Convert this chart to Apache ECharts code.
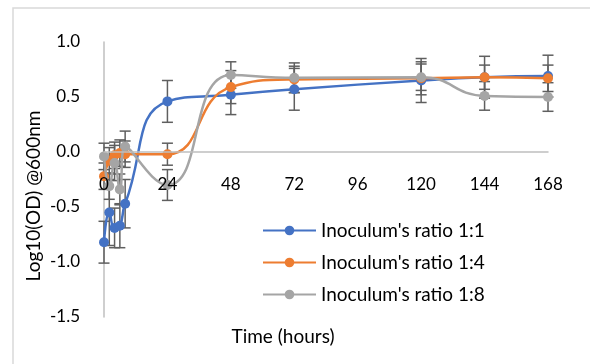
<!DOCTYPE html>
<html>
<head>
<meta charset="utf-8">
<script src="https://cdn.jsdelivr.net/npm/echarts@6/dist/echarts.min.js"></script>
<style>
  html, body { margin: 0; padding: 0; background: #fff; }
  #chart { width: 590px; height: 364px; }
</style>
</head>
<body>
<div id="chart"></div>
<script>
// Sampling times (hours)
const hours = [0, 2, 4, 6, 8, 24, 48, 72, 120, 144, 168];

// Log10(OD600) means per inoculum ratio
const ratio11 = [-0.82, -0.55, -0.69, -0.67, -0.47, 0.46, 0.52, 0.57, 0.65, 0.68, 0.69];
const ratio14 = [-0.22, -0.08, -0.03, -0.01, -0.02, -0.02, 0.59, 0.66, 0.67, 0.68, 0.67];
const ratio18 = [-0.04, -0.31, -0.10, -0.34, 0.05, -0.30, 0.70, 0.675, 0.68, 0.51, 0.50];

// Standard deviations
const err11 = [0.19, 0.30, 0.18, 0.20, 0.22, 0.19, 0.18, 0.19, 0.20, 0.19, 0.19];
const err14 = [0.12, 0.12, 0.12, 0.12, 0.12, 0.10, 0.15, 0.12, 0.15, 0.11, 0.12];
const err18 = [0.12, 0.12, 0.16, 0.14, 0.14, 0.14, 0.12, 0.135, 0.12, 0.13, 0.13];

const seriesNames = ["Inoculum's ratio 1:1", "Inoculum's ratio 1:4", "Inoculum's ratio 1:8"];
const colors = ['#4472C4', '#ED7D31', '#A5A5A5'];

const yTicks = [-1.5, -1.0, -0.5, 0.0, 0.5, 1.0];
const xTicks = [0, 24, 48, 72, 96, 120, 144, 168];

const FONT = 'Lato';
const values = [ratio11, ratio14, ratio18];
const errors = [err11, err14, err18];

function pairs(v) { return hours.map((h, i) => [h, v[i]]); }
function errTriples(v, e) { return hours.map((h, i) => [h, v[i], e[i]]); }

function renderErr(params, api) {
  const x = api.value(0), y = api.value(1), e = api.value(2);
  const top = api.coord([x, y + e]);
  const bot = api.coord([x, y - e]);
  const cap = 5.5;
  const style = { stroke: '#5F5F5F', lineWidth: 1.5 };
  return {
    type: 'group',
    children: [
      { type: 'line', shape: { x1: top[0], y1: top[1], x2: bot[0], y2: bot[1] }, style },
      { type: 'line', shape: { x1: top[0] - cap, y1: top[1], x2: top[0] + cap, y2: top[1] }, style },
      { type: 'line', shape: { x1: bot[0] - cap, y1: bot[1], x2: bot[0] + cap, y2: bot[1] }, style }
    ]
  };
}

const series = [];
values.forEach((v, k) => {
  series.push({
    type: 'custom',
    renderItem: renderErr,
    data: errTriples(v, errors[k]),
    z: 1,
    silent: true,
    clip: false
  });
});
values.forEach((v, k) => {
  series.push({
    name: seriesNames[k],
    type: 'line',
    data: pairs(v),
    smooth: 0.5,
    symbol: 'circle',
    symbolSize: 10,
    lineStyle: { color: colors[k], width: 2.5 },
    itemStyle: { color: colors[k] },
    z: 3 + k
  });
});

// Plot box and scale
const GRID = { left: 104, right: 42, top: 42, bottom: 47 };
const plotH = 364 - GRID.top - GRID.bottom;
const yMin = yTicks[0], yMax = yTicks[yTicks.length - 1];
// Lift the horizontal axis (line and labels) up to y = 0
const zeroOffset = -plotH * (0 - yMin) / (yMax - yMin);

const chart = echarts.init(document.getElementById('chart'));
chart.setOption({
  animation: false,
  backgroundColor: '#ffffff',
  color: colors,
  grid: GRID,
  xAxis: {
    type: 'value',
    min: xTicks[0],
    max: xTicks[xTicks.length - 1],
    interval: 24,
    offset: zeroOffset,
    z: 10,
    axisLine: { onZero: false, lineStyle: { color: '#BFBFBF', width: 1.5 } },
    axisTick: { show: false },
    splitLine: { show: false },
    axisLabel: { color: '#000', fontFamily: FONT, fontSize: 17, margin: 24 }
  },
  yAxis: {
    type: 'value',
    min: yMin,
    max: yMax,
    interval: 0.5,
    axisLine: { show: true, lineStyle: { color: '#BFBFBF', width: 1.5 } },
    axisTick: { show: false },
    splitLine: { show: false },
    axisLabel: {
      color: '#000', fontFamily: FONT, fontSize: 17, margin: 24,
      formatter: v => v.toFixed(1)
    }
  },
  legend: {
    orient: 'vertical',
    left: 257,
    top: 216,
    itemWidth: 53,
    itemHeight: 12,
    itemGap: 13,
    data: seriesNames,
    textStyle: { color: '#000', fontFamily: FONT, fontSize: 19 },
    backgroundColor: '#ffffff'
  },
  graphic: [
    {
      type: 'rect',
      shape: { x: 13, y: 8, width: 700, height: 500 },
      style: { fill: null, stroke: '#D9D9D9', lineWidth: 1.5 },
      silent: true
    },
    {
      type: 'text',
      x: 34, y: 196,
      rotation: Math.PI / 2,
      style: {
        text: 'Log10(OD) @600nm',
        fill: '#000', font: '19px ' + FONT,
        textAlign: 'center', textVerticalAlign: 'middle'
      }
    },
    {
      type: 'text',
      x: 283, y: 337,
      style: {
        text: 'Time (hours)',
        fill: '#000', font: '19px ' + FONT,
        textAlign: 'center', textVerticalAlign: 'middle'
      }
    }
  ],
  series: series
});
</script>
</body>
</html>
